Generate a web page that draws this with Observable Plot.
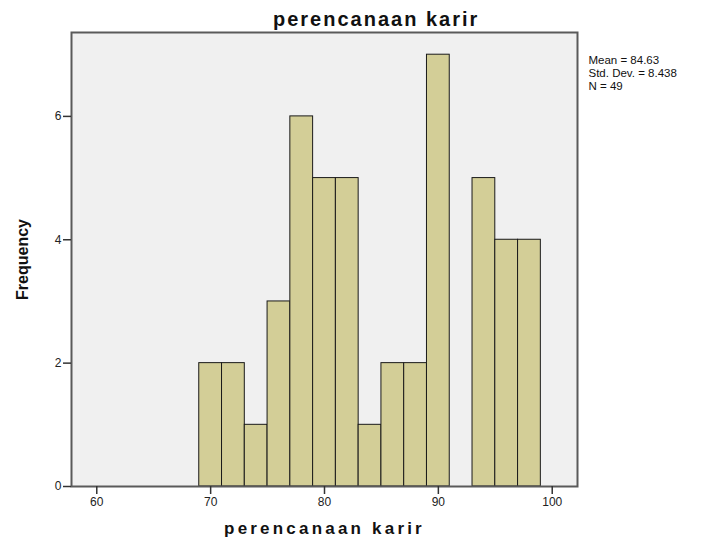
<!DOCTYPE html>
<html>
<head>
<meta charset="utf-8">
<script src="https://cdn.jsdelivr.net/npm/d3@7"></script>
<script src="https://cdn.jsdelivr.net/npm/@observablehq/plot@0.6"></script>
<style>
  html, body { margin: 0; padding: 0; background: #fff; }
  #wrap { position: relative; width: 721px; height: 539px; overflow: hidden; }
  #title {
    position: absolute; left: 273px; top: 0; height: 30px; white-space: nowrap;
    font-family: "Liberation Sans", Arial, sans-serif;
    font-weight: bold; font-size: 20px; letter-spacing: 2px; line-height: 20px;
    box-sizing: border-box; padding-top: 9px; color: #111;
  }
  #chart { position: absolute; left: 0; top: 30px; }
</style>
</head>
<body>
<div id="wrap">
  <div id="title">perencanaan karir</div>
  <div id="chart"></div>
</div>
<script>
// Histogram bins (lower edge, upper edge) and frequencies
const binLower = [69, 71, 73, 75, 77, 79, 81, 83, 85, 87, 89, 91, 93, 95, 97];
const binUpper = [71, 73, 75, 77, 79, 81, 83, 85, 87, 89, 91, 93, 95, 97, 99];
const frequency = [2, 2, 1, 3, 6, 5, 5, 1, 2, 2, 7, 0, 5, 4, 4];

const xTicks = [60, 70, 80, 90, 100];
const yTicks = [0, 2, 4, 6];

const xTitle = "perencanaan karir";
const yTitle = "Frequency";
const statsLines = ["Mean = 84.63", "Std. Dev. = 8.438", "N = 49"];

const bins = binLower.map((lo, i) => ({lo, hi: binUpper[i], n: frequency[i]})).filter(d => d.n > 0);

const chart = Plot.plot({
  width: 721,
  height: 509,
  marginLeft: 71,
  marginRight: 144,
  marginTop: 2,
  marginBottom: 53,
  style: {fontFamily: "'Liberation Sans', Arial, sans-serif", fontSize: "12px", color: "#222", background: "transparent"},
  x: {domain: [57.78, 102.22]},
  y: {domain: [0, 7.36]},
  marks: [
    Plot.frame({fill: "#f0f0f0", stroke: "none"}),
    Plot.rectY(bins, {x1: "lo", x2: "hi", y1: 0, y2: "n", fill: "#d3ce97", stroke: "#1a1a1a", strokeWidth: 1}),
    Plot.frame({stroke: "#5a5a5a", strokeWidth: 2}),
    Plot.axisX({ticks: xTicks, tickSize: 8, tickPadding: 3, tickFormat: d => String(d), label: null, stroke: "#333", strokeWidth: 1.5, fontSize: 12}),
    Plot.axisY({ticks: yTicks, tickSize: 8, tickPadding: 2, tickFormat: d => String(d), label: null, stroke: "#333", strokeWidth: 1.5, fontSize: 12}),
    Plot.text([xTitle], {frameAnchor: "bottom", dy: 47, lineAnchor: "bottom", text: d => d, fontSize: 17, fontWeight: "bold", fill: "#111"}),
    Plot.text([yTitle], {frameAnchor: "left", dx: -49, rotate: -90, textAnchor: "middle", lineAnchor: "middle", text: d => d, fontSize: 16, fontWeight: "bold", fontFamily: "'Liberation Sans Narrow', 'Arial Narrow', sans-serif", fill: "#111"}),
    Plot.text([statsLines.join("\n")], {frameAnchor: "top-right", dx: 11, dy: 23, textAnchor: "start", lineAnchor: "top", lineHeight: 1.1, text: d => d, fontSize: 11.5, fill: "#111"})
  ]
});
// letter-spaced x-axis title, as in the reference
d3.select(chart).selectAll("text").filter(function() { return this.textContent === xTitle; })
  .style("letter-spacing", "3.2px");
document.getElementById("chart").appendChild(chart);
</script>
</body>
</html>
